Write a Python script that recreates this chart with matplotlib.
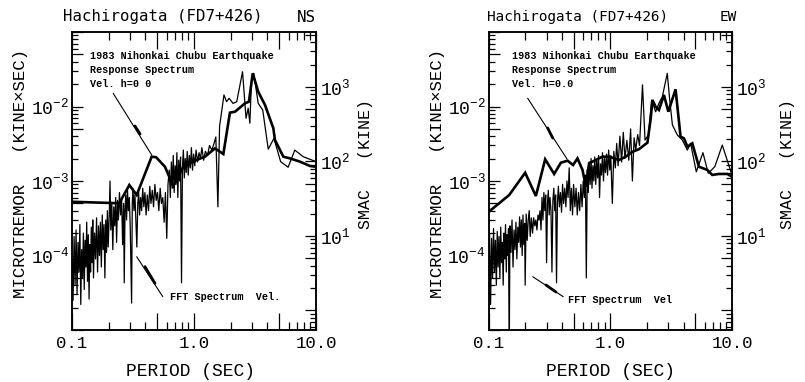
import matplotlib
matplotlib.use('Agg')
import matplotlib.pyplot as plt
from matplotlib.ticker import FixedLocator, FixedFormatter, NullFormatter

plt.rcParams['font.family'] = ['Liberation Mono', 'DejaVu Sans Mono']
plt.rcParams['mathtext.fontset'] = 'custom'
plt.rcParams['mathtext.rm'] = 'Liberation Mono'
plt.rcParams['mathtext.it'] = 'Liberation Mono'
plt.rcParams['mathtext.bf'] = 'Liberation Mono:bold'

# ---------------- NS component ----------------
ns_fft_period = [
    0.100, 0.102, 0.104, 0.106, 0.108, 0.110, 0.112, 0.114, 0.116, 0.118,
    0.120, 0.122, 0.124, 0.126, 0.128, 0.130, 0.132, 0.134, 0.136, 0.138,
    0.140, 0.142, 0.144, 0.146, 0.148, 0.150, 0.153, 0.156, 0.159, 0.162,
    0.165, 0.168, 0.171, 0.174, 0.177, 0.180, 0.183, 0.186, 0.189, 0.192,
    0.195, 0.198,
    0.202, 0.205, 0.208, 0.212, 0.216, 0.220, 0.224, 0.228, 0.232, 0.236,
    0.240, 0.245, 0.250, 0.255, 0.260, 0.265, 0.268, 0.272, 0.276, 0.280,
    0.285, 0.290, 0.295, 0.300, 0.308, 0.312, 0.316,
    0.322, 0.328, 0.334, 0.340, 0.346, 0.352, 0.358, 0.365, 0.372, 0.380,
    0.388, 0.396, 0.405, 0.414, 0.424, 0.434, 0.444, 0.455, 0.466, 0.478,
    0.490, 0.502, 0.515, 0.528, 0.541, 0.555, 0.569, 0.583, 0.598, 0.612,
    0.627,
    0.640, 0.652, 0.664, 0.676, 0.688, 0.700, 0.712, 0.724, 0.737, 0.750,
    0.763, 0.776, 0.790, 0.804, 0.818, 0.833, 0.848, 0.864, 0.880, 0.897,
    0.915, 0.933, 0.952, 0.972, 0.993, 1.015, 1.04, 1.07, 1.10, 1.13,
    1.16, 1.20, 1.24, 1.29, 1.34, 1.40, 1.46, 1.51, 1.57, 1.62,
    1.76, 1.85, 1.94, 2.09, 2.24, 2.50, 2.67, 2.78, 2.87, 2.96,
    3.09, 3.36, 3.66, 4.06, 4.52, 5.13, 5.91, 6.70, 7.85, 9.55, 10.0]
ns_fft_vel = [
    9e-5, 2.5e-5, 1.8e-4, 4e-5, 2.2e-4, 3e-5, 1.5e-4, 6e-5, 2.6e-4, 2.2e-5,
    1.2e-4, 5e-5, 2e-4, 3.5e-5, 1.6e-4, 7e-5, 2.8e-4, 4.5e-5, 1.9e-4, 2.6e-5,
    1.4e-4, 6e-5, 2.4e-4, 8e-5, 3e-4, 5e-5, 2e-4, 9e-5, 3.2e-4, 6e-5,
    2.5e-4, 1e-4, 2.8e-4, 7e-5, 3.5e-4, 1.2e-4, 2.6e-4, 5e-5, 3e-4, 1.1e-4,
    4e-4, 1.3e-4,
    3.5e-4, 1e-3, 2.2e-4, 5e-4, 1.2e-4, 4.5e-4, 2.5e-4, 6e-4, 1.5e-4, 5.5e-4,
    3e-4, 7e-4, 3.5e-4, 6e-4, 1.4e-4, 5e-4, 4.3e-5, 4e-4, 6.5e-4, 3e-4,
    7.5e-4, 4e-4, 6e-4, 2.5e-4, 2.3e-5, 5e-4, 8e-4,
    4e-4, 6.5e-4, 3e-4, 1.3e-4, 5e-4, 7e-4, 3.5e-4, 6e-4, 4e-4, 8e-4,
    4.5e-4, 7e-4, 3.5e-4, 6.5e-4, 4e-4, 8.5e-4, 5e-4, 7.5e-4, 4.5e-4, 9e-4,
    5.5e-4, 7e-4, 4e-4, 8e-4, 5e-4, 6e-4, 2.8e-4, 7e-4, 1.7e-4, 9e-4,
    1.4e-3,
    6e-4, 1.8e-3, 8e-4, 2.2e-3, 7e-4, 1.6e-3, 9e-4, 2.4e-3, 6e-4, 1.9e-3,
    1e-3, 2.1e-3, 4.3e-5, 1.5e-3, 2.6e-3, 1.1e-3, 2e-3, 1.3e-3, 2.5e-3, 1.2e-3,
    2.2e-3, 1.5e-3, 2.8e-3, 1.4e-3, 2.3e-3, 1.6e-3, 2.6e-3, 1.8e-3, 2.4e-3, 2e-3,
    2.8e-3, 1.9e-3, 2.5e-3, 2.2e-3, 3e-3, 2.6e-3, 3.2e-3, 3.9e-3, 4.5e-4, 5.4e-3,
    1.43e-2, 1.16e-2, 1.29e-2, 1.1e-2, 1.16e-2, 2.93e-2, 6.95e-3, 9.5e-3, 5.96e-3, 2.27e-2,
    2.79e-2, 1.1e-2, 8.97e-3, 2.67e-3, 3.74e-3, 1.82e-3, 1.53e-3, 2.6e-3, 2.12e-3, 1.87e-3, 1.82e-3]

ns_rs_period = [0.1, 0.244, 0.295, 0.339, 0.45, 0.489, 0.578, 0.676, 0.721, 0.817,
                0.927, 1.05, 1.23, 1.486, 1.74, 1.97, 2.17, 2.62, 2.82, 3.03,
                3.36, 3.82, 4.47, 4.61, 5.4, 6.12, 7.4, 8.93, 10.0]
ns_rs_vel = [28.8, 27.5, 48.3, 35.5, 116, 114, 85, 46.9, 56.4, 85,
             94.6, 104.7, 116, 150, 126, 452, 466, 604, 634, 1527,
             865, 573, 279, 194, 116, 110, 99.3, 87, 85]

# ---------------- EW component ----------------
ew_fft_period = [
    0.100, 0.101, 0.102, 0.104, 0.106, 0.108, 0.110, 0.112, 0.114, 0.116,
    0.118, 0.120, 0.122, 0.124, 0.126, 0.128, 0.130, 0.132, 0.134, 0.136,
    0.138, 0.140, 0.142, 0.144, 0.146, 0.148, 0.150, 0.153, 0.156, 0.159,
    0.162, 0.165, 0.168, 0.171, 0.174, 0.177, 0.180, 0.183, 0.186, 0.189,
    0.192, 0.195, 0.198, 0.200, 0.204, 0.208, 0.212, 0.216, 0.220, 0.225,
    0.230, 0.235, 0.240, 0.245, 0.250, 0.255, 0.260, 0.265, 0.270,
    0.275, 0.280, 0.285, 0.290, 0.295, 0.300, 0.305, 0.310, 0.315, 0.320,
    0.326, 0.332, 0.338, 0.344, 0.350, 0.356, 0.362, 0.368, 0.375, 0.382,
    0.390, 0.398, 0.406, 0.414, 0.423, 0.432, 0.441, 0.450, 0.460, 0.470,
    0.480, 0.490, 0.500, 0.512, 0.524, 0.536, 0.548, 0.561, 0.574, 0.587,
    0.600, 0.613, 0.625, 0.636, 0.648,
    0.660, 0.672, 0.684, 0.696, 0.708, 0.720, 0.733, 0.746, 0.760, 0.774,
    0.788, 0.802, 0.817, 0.832, 0.848, 0.864, 0.880, 0.897, 0.914, 0.932,
    0.950, 0.970, 0.990, 1.010, 1.040, 1.070, 1.100, 1.130, 1.160, 1.200,
    1.240, 1.280, 1.320, 1.370, 1.420, 1.470, 1.520, 1.570, 1.620, 1.680,
    1.740, 1.84, 1.93, 2.06, 2.19, 2.36, 2.51, 2.68, 2.94, 3.08,
    3.24, 3.56, 3.91, 4.30, 4.57, 5.09, 5.77, 6.38, 7.23, 8.32, 9.31, 10.0]
ew_fft_vel = [
    1.5e-4, 3e-5, 2e-4, 2.2e-5, 1.7e-4, 5e-5, 2.3e-4, 6e-5, 1.6e-4, 4e-5,
    2.1e-4, 7e-5, 1.8e-4, 5e-5, 2.4e-4, 8e-5, 1.5e-4, 4e-5, 2e-4, 9e-5,
    2.6e-4, 6e-5, 1.9e-4, 1e-4, 2.3e-4, 4e-6, 2.5e-4, 1.1e-4, 3e-4, 7e-5,
    2.2e-4, 1.2e-4, 2.8e-4, 9e-5, 2.4e-4, 1.5e-4, 3.3e-4, 1.3e-4, 3e-4, 1e-4,
    3.5e-4, 1.4e-4, 2.7e-4, 4e-5, 3.6e-4, 1.6e-4, 3e-4, 4e-4, 1.8e-4, 3.2e-4,
    2e-4, 3.2e-4, 2.5e-4, 3e-4, 2.2e-4, 3.5e-4, 3e-4, 4e-4, 2.2e-4,
    6e-4, 3e-4, 7e-4, 4e-4, 6.5e-4, 8e-5, 5e-4, 7.5e-4, 3.5e-4, 6e-4,
    4e-4, 6e-5, 5.5e-4, 8e-4, 4e-4, 6.5e-4, 4.3e-5, 5e-4, 8.5e-4, 4.5e-4,
    7e-4, 3.8e-4, 9e-4, 5e-4, 8e-4, 4.5e-4, 1e-3, 6e-4, 1.5e-3, 4e-4,
    8e-4, 3.5e-4, 9e-4, 4.5e-4, 8e-4, 3.5e-4, 7e-4, 4e-4, 9e-4, 4.5e-4,
    1e-3, 6e-4, 1.2e-3, 5e-5, 1.4e-3,
    7e-4, 1.8e-3, 9e-4, 2e-3, 8e-4, 1.6e-3, 1e-3, 2.1e-3, 9e-4, 1.9e-3,
    1.1e-3, 2.2e-3, 6e-4, 1.7e-3, 1.2e-3, 2.4e-3, 1e-3, 2e-3, 1.3e-3, 2.3e-3,
    1.2e-3, 2.6e-3, 1.4e-3, 2.2e-3, 5e-4, 2.5e-3, 1.5e-3, 3.2e-3, 1.6e-3, 4e-3,
    1.8e-3, 4.5e-3, 2e-3, 3.5e-3, 1.9e-3, 5e-3, 1e-3, 3.8e-3, 2.6e-3, 4.2e-3,
    3e-3, 1.95e-2, 3.55e-3, 4.14e-3, 1.22e-2, 8.5e-3, 1.1e-2, 1.36e-2, 2.79e-2, 1.22e-2,
    5.65e-3, 4.14e-3, 3.55e-3, 2.6e-3, 3.2e-3, 1.33e-3, 2.4e-3, 1.27e-3, 1.56e-3, 3.04e-3, 1.73e-3, 1.2e-3]

ew_rs_period = [0.1, 0.148, 0.2, 0.245, 0.292, 0.346, 0.393, 0.446, 0.495, 0.538,
                0.592, 0.63, 0.67, 0.76, 0.863, 0.977, 1.18, 1.34, 1.52, 1.72,
                2.02, 2.15, 2.22, 2.36, 2.51, 2.76, 3.0, 3.44, 3.78, 4.03,
                4.3, 4.72, 5.35, 6.27, 6.89, 7.8, 9.14, 10.0]
ew_rs_vel = [21, 35.5, 70.6, 34.4, 107, 68, 96.3, 102.5, 89.7, 110,
             76.9, 45.8, 94.6, 104.7, 116, 116, 104.7, 116, 135, 146,
             179, 380, 668, 543, 491, 780, 466, 931, 215, 205,
             158, 175, 85, 77, 66, 68, 68, 62.5]

# axis ticks / labels
x_major = [0.1, 0.5, 1.0, 5.0, 10.0]
x_major_labels = ['0.1', '', '1.0', '', '10.0']
x_minor = [0.2, 0.3, 0.4, 0.6, 0.7, 0.8, 0.9, 2, 3, 4, 6, 7, 8, 9]
yl_major = [1e-5, 5e-5, 1e-4, 5e-4, 1e-3, 5e-3, 1e-2, 5e-2, 1e-1]
yl_labels = ['', '', r'$10^{-4}$', '', r'$10^{-3}$', '', r'$10^{-2}$', '', '']
yr_major = [1, 5, 10, 50, 100, 500, 1000, 5000]
yr_labels = ['', '', r'$10^{1}$', '', r'$10^{2}$', '', r'$10^{3}$', '']

W, H = 805.0, 382.0
fig = plt.figure(figsize=(8.05, 3.82), dpi=100)


def minor_list(lo_exp, hi_exp, lim_lo, lim_hi):
    out = []
    for e in range(lo_exp, hi_exp + 1):
        for s in (2, 3, 4, 6, 7, 8, 9):
            v = s * 10.0 ** e
            if lim_lo <= v <= lim_hi:
                out.append(v)
    return out


def panel(left_px, right_px, fft_T, fft_V, rs_T, rs_V, title_x, title_size,
          comp, comp_x, texts, fft_text, lead_rs, thick_rs, lead_fft, thick_fft,
          ylab_x, yrlab_x, xlab_x):
    top_px, bot_px = 32.0, 330.0
    ax = fig.add_axes([left_px / W, 1 - bot_px / H, (right_px - left_px) / W,
                       (bot_px - top_px) / H])
    ax.set_xscale('log')
    ax.set_yscale('log')
    ax.set_xlim(0.1, 10.0)
    ax.set_ylim(1e-5, 1e-1)
    ax.plot(fft_T, fft_V, color='black', lw=0.9, zorder=2)

    ax2 = ax.twinx()
    ax2.set_yscale('log')
    ax2.set_ylim(10 ** -0.262, 10 ** 3.738)
    ax2.plot(rs_T, rs_V, color='black', lw=1.9, zorder=3, solid_joinstyle='miter')

    ax.xaxis.set_major_locator(FixedLocator(x_major))
    ax.xaxis.set_major_formatter(FixedFormatter(x_major_labels))
    ax.xaxis.set_minor_locator(FixedLocator(x_minor))
    ax.xaxis.set_minor_formatter(NullFormatter())
    ax.yaxis.set_major_locator(FixedLocator(yl_major))
    ax.yaxis.set_major_formatter(FixedFormatter(yl_labels))
    ax.yaxis.set_minor_locator(FixedLocator(minor_list(-5, -2, 1e-5, 1e-1)))
    ax.yaxis.set_minor_formatter(NullFormatter())
    ax2.yaxis.set_major_locator(FixedLocator(yr_major))
    ax2.yaxis.set_major_formatter(FixedFormatter(yr_labels))
    ax2.yaxis.set_minor_locator(FixedLocator(minor_list(-1, 3, 0.55, 5470)))
    ax2.yaxis.set_minor_formatter(NullFormatter())

    ax.tick_params(axis='both', which='both', direction='in', top=True,
                   right=False, width=0.9, colors='black')
    ax.tick_params(axis='x', which='major', length=12, pad=4, labelsize=12.5)
    ax.tick_params(axis='x', which='minor', length=6)
    ax.tick_params(axis='y', which='major', length=8, pad=2, labelsize=13)
    ax.tick_params(axis='y', which='minor', length=4.5)
    ax2.tick_params(axis='y', which='both', direction='in', right=True,
                    left=False, width=0.9)
    ax2.tick_params(axis='y', which='major', length=8, pad=3, labelsize=13)
    ax2.tick_params(axis='y', which='minor', length=4.5)
    for a in (ax, ax2):
        for s in a.spines.values():
            s.set_linewidth(1.1)

    # titles
    fig.text(title_x / W, 1 - 17 / H, 'Hachirogata (FD7+426)', fontsize=title_size,
             family='DejaVu Sans Mono', ha='left', va='center')
    fig.text(comp_x / W, 1 - 17 / H, comp, fontsize=title_size,
             family='DejaVu Sans Mono', ha='right', va='center')

    # axis labels
    fig.text(ylab_x / W, 1 - 173 / H, 'MICROTREMOR   (KINE\u00d7SEC)', rotation=90,
             fontsize=12.5, ha='center', va='center')
    fig.text(yrlab_x / W, 1 - 163.5 / H, 'SMAC   (KINE)', rotation=90,
             fontsize=12, ha='center', va='center')
    fig.text(xlab_x / W, 1 - 372 / H, 'PERIOD (SEC)', fontsize=13,
             ha='center', va='center')

    # annotation texts
    for (tx, ty, s) in texts:
        ax.text(tx, ty, s, transform=ax.transAxes, fontsize=7.3, fontweight='bold',
                ha='left', va='center')
    ax.text(fft_text[0], fft_text[1], fft_text[2], transform=ax.transAxes,
            fontsize=7.3, fontweight='bold', ha='left', va='center')

    # leader lines
    for (p0, p1), lw in ((lead_rs, 0.8), (thick_rs, 2.0), (lead_fft, 0.8), (thick_fft, 2.0)):
        ax.annotate('', xy=p1, xytext=p0, xycoords='axes fraction',
                    textcoords='axes fraction',
                    arrowprops=dict(arrowstyle='-', lw=lw, color='black',
                                    shrinkA=0, shrinkB=0))
    return ax


panel(72.0, 316.0, ns_fft_period, ns_fft_vel, ns_rs_period, ns_rs_vel,
      63.0, 11.3, 'NS', 316.0,
      [(0.074, 0.919, '1983 Nihonkai Chubu Earthquake'),
       (0.074, 0.872, 'Response Spectrum'),
       (0.074, 0.826, 'Vel. h=0 0')],
      (0.402, 0.112, 'FFT Spectrum  Vel.'),
      ((0.169, 0.794), (0.327, 0.587)),
      ((0.258, 0.6846), (0.279, 0.6577)),
      ((0.265, 0.246), (0.372, 0.112)),
      ((0.299, 0.2125), (0.340, 0.1567)),
      21.0, 365.0, 190.0)

panel(488.5, 732.0, ew_fft_period, ew_fft_vel, ew_rs_period, ew_rs_vel,
      487.0, 10.4, 'EW', 737.0,
      [(0.095, 0.919, '1983 Nihonkai Chubu Earthquake'),
       (0.095, 0.872, 'Response Spectrum'),
       (0.095, 0.826, 'Vel. h=0.0')],
      (0.325, 0.101, 'FFT Spectrum  Vel'),
      ((0.161, 0.7775), (0.3224, 0.5738)),
      ((0.243, 0.678), (0.2637, 0.644)),
      ((0.1815, 0.1789), (0.307, 0.1117)),
      ((0.236, 0.151), (0.277, 0.1275)),
      437.0, 787.0, 610.0)

fig.savefig('out.png', dpi=100)
